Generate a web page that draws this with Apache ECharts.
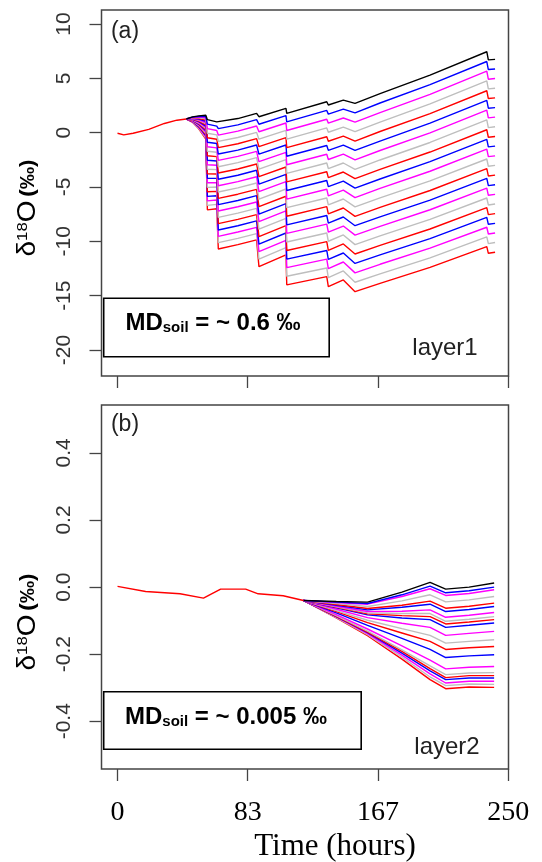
<!DOCTYPE html>
<html>
<head>
<meta charset="utf-8">
<script src="https://cdn.jsdelivr.net/npm/echarts@6/dist/echarts.min.js"></script>
<style>
  html, body { margin: 0; padding: 0; background: #fff; }
  #chart { width: 542px; height: 862px; }
</style>
</head>
<body>
<div id="chart"></div>
<script>
// time ticks (hours), shared by both panels
var xTicks = [0, 83.333, 166.667, 250];
var yTicksA = [-20, -15, -10, -5, 0, 5, 10];
var yTicksB = [-0.4, -0.2, 0, 0.2, 0.4];

// colour of each simulated line, top to bottom
var lineColors = ['#000000',
  '#0000ff', '#ff00ff', '#bebebe', '#ff0000',
  '#0000ff', '#ff00ff', '#bebebe', '#ff0000',
  '#0000ff', '#ff00ff', '#bebebe', '#ff0000',
  '#0000ff', '#ff00ff', '#bebebe', '#ff0000',
  '#0000ff', '#ff00ff', '#bebebe', '#ff0000'];

// ---- layer 1 ----
var trunkTimesA = [0, 4, 10, 20, 30, 38, 44];
var trunkValsA = [-0.05, -0.2, -0.05, 0.3, 0.85, 1.15, 1.26];

var timesA = [44, 48, 52, 56.5, 57.5, 63.5, 64.5, 77, 89, 90.5, 107.8, 108.3, 133.9, 134.9, 144.5, 152, 168, 200, 236.3, 237.3, 241.6];
var layer1Lines = [
  [1.26, 1.45, 1.55, 1.6, 1.2, 1.0, 0.95, 1.3, 1.78, 1.47, 2.24, 1.78, 2.85, 2.55, 3.0, 2.7, 3.6, 5.3, 7.45, 6.7, 6.75],
  [1.26, 1.43, 1.49, 1.49, 0.79, 0.6, 0.37, 0.72, 1.20, 0.78, 1.57, 0.99, 2.05, 1.71, 2.17, 1.83, 2.73, 4.42, 6.55, 5.81, 5.86],
  [1.26, 1.40, 1.43, 1.38, 0.37, 0.2, -0.22, 0.14, 0.62, 0.09, 0.89, 0.20, 1.24, 0.88, 1.35, 0.97, 1.85, 3.53, 5.66, 4.92, 4.98],
  [1.26, 1.38, 1.37, 1.27, -0.05, -0.2, -0.80, -0.44, 0.03, -0.60, 0.22, -0.59, 0.44, 0.04, 0.52, 0.10, 0.98, 2.65, 4.76, 4.03, 4.09],
  [1.26, 1.35, 1.31, 1.16, -0.46, -0.6, -1.38, -1.02, -0.55, -1.29, -0.46, -1.38, -0.37, -0.79, -0.31, -0.77, 0.11, 1.76, 3.86, 3.14, 3.2],
  [1.26, 1.33, 1.25, 1.05, -0.88, -1.0, -1.96, -1.6, -1.13, -1.98, -1.13, -2.17, -1.18, -1.63, -1.14, -1.63, -0.77, 0.88, 2.97, 2.25, 2.31],
  [1.26, 1.30, 1.19, 0.94, -1.29, -1.4, -2.55, -2.18, -1.72, -2.67, -1.81, -2.95, -1.98, -2.47, -1.97, -2.50, -1.64, -0.01, 2.07, 1.36, 1.43],
  [1.26, 1.28, 1.13, 0.83, -1.71, -1.8, -3.13, -2.76, -2.30, -3.36, -2.48, -3.74, -2.79, -3.30, -2.79, -3.37, -2.51, -0.90, 1.17, 0.47, 0.54],
  [1.26, 1.25, 1.07, 0.72, -2.12, -2.2, -3.71, -3.34, -2.88, -4.05, -3.16, -4.53, -3.59, -4.14, -3.62, -4.23, -3.38, -1.78, 0.27, -0.42, -0.35],
  [1.26, 1.23, 1.01, 0.61, -2.54, -2.6, -4.29, -3.92, -3.46, -4.74, -3.83, -5.32, -4.40, -4.97, -4.45, -5.10, -4.26, -2.67, -0.62, -1.31, -1.24],
  [1.26, 1.20, 0.95, 0.5, -2.95, -3.0, -4.88, -4.5, -4.05, -5.43, -4.51, -6.11, -5.20, -5.81, -5.28, -5.97, -5.13, -3.55, -1.52, -2.2, -2.13],
  [1.26, 1.18, 0.89, 0.39, -3.37, -3.4, -5.46, -5.08, -4.63, -6.12, -5.18, -6.90, -6.01, -6.65, -6.10, -6.83, -6.00, -4.44, -2.42, -3.09, -3.01],
  [1.26, 1.15, 0.83, 0.28, -3.78, -3.8, -6.04, -5.66, -5.21, -6.81, -5.85, -7.69, -6.81, -7.48, -6.93, -7.70, -6.88, -5.32, -3.31, -3.98, -3.9],
  [1.26, 1.13, 0.77, 0.17, -4.2, -4.2, -6.62, -6.24, -5.79, -7.50, -6.53, -8.48, -7.62, -8.32, -7.76, -8.56, -7.75, -6.21, -4.21, -4.87, -4.79],
  [1.26, 1.10, 0.71, 0.06, -4.61, -4.6, -7.21, -6.82, -6.38, -8.19, -7.20, -9.27, -8.42, -9.15, -8.59, -9.43, -8.62, -7.09, -5.11, -5.76, -5.68],
  [1.26, 1.08, 0.65, -0.05, -5.03, -5.0, -7.79, -7.4, -6.96, -8.88, -7.88, -10.06, -9.23, -9.99, -9.41, -10.30, -9.50, -7.98, -6.01, -6.65, -6.56],
  [1.26, 1.05, 0.59, -0.16, -5.44, -5.4, -8.37, -7.98, -7.54, -9.57, -8.55, -10.84, -10.03, -10.83, -10.24, -11.16, -10.37, -8.86, -6.90, -7.54, -7.45],
  [1.26, 1.03, 0.53, -0.27, -5.86, -5.8, -8.95, -8.56, -8.12, -10.26, -9.23, -11.63, -10.84, -11.66, -11.07, -12.03, -11.24, -9.75, -7.80, -8.43, -8.34],
  [1.26, 1.00, 0.47, -0.38, -6.27, -6.2, -9.54, -9.14, -8.71, -10.95, -9.90, -12.42, -11.64, -12.50, -11.90, -12.90, -12.11, -10.63, -8.70, -9.32, -9.23],
  [1.26, 0.98, 0.41, -0.49, -6.69, -6.6, -10.12, -9.72, -9.29, -11.64, -10.58, -13.21, -12.45, -13.33, -12.72, -13.76, -12.99, -11.52, -9.59, -10.21, -10.11],
  [1.26, 0.95, 0.35, -0.6, -7.1, -7.0, -10.7, -10.3, -9.87, -12.33, -11.25, -14.0, -13.25, -14.17, -13.55, -14.63, -13.86, -12.4, -10.49, -11.1, -11.0]
];

// ---- layer 2 ----
var trunkTimesB = [0, 18, 40, 55, 66, 82, 90, 106, 119];
var trunkValsB = [0.002, -0.013, -0.02, -0.033, -0.006, -0.006, -0.02, -0.026, -0.04];

var timesB = [119, 140, 160, 182, 200, 210, 225, 241];
var layer2Lines = [
  [-0.04, -0.043, -0.045, -0.015, 0.014, -0.006, 0.0, 0.012],
  [-0.04, -0.045, -0.049, -0.023, 0.003, -0.017, -0.011, 0.0],
  [-0.04, -0.046, -0.051, -0.028, -0.005, -0.025, -0.019, -0.008],
  [-0.04, -0.049, -0.058, -0.041, -0.023, -0.044, -0.038, -0.028],
  [-0.04, -0.052, -0.064, -0.054, -0.042, -0.063, -0.057, -0.048],
  [-0.04, -0.054, -0.068, -0.060, -0.051, -0.073, -0.067, -0.058],
  [-0.04, -0.057, -0.073, -0.072, -0.068, -0.090, -0.084, -0.076],
  [-0.04, -0.059, -0.077, -0.079, -0.079, -0.102, -0.096, -0.088],
  [-0.04, -0.060, -0.080, -0.085, -0.088, -0.110, -0.104, -0.097],
  [-0.04, -0.062, -0.083, -0.092, -0.097, -0.120, -0.114, -0.107],
  [-0.04, -0.066, -0.091, -0.108, -0.120, -0.144, -0.138, -0.132],
  [-0.04, -0.070, -0.099, -0.124, -0.144, -0.167, -0.162, -0.157],
  [-0.04, -0.073, -0.106, -0.137, -0.162, -0.186, -0.181, -0.177],
  [-0.04, -0.077, -0.114, -0.153, -0.186, -0.210, -0.205, -0.202],
  [-0.04, -0.082, -0.125, -0.175, -0.218, -0.244, -0.239, -0.237],
  [-0.04, -0.085, -0.131, -0.187, -0.235, -0.261, -0.256, -0.255],
  [-0.04, -0.087, -0.134, -0.192, -0.243, -0.270, -0.264, -0.264],
  [-0.04, -0.088, -0.136, -0.197, -0.250, -0.276, -0.271, -0.271],
  [-0.04, -0.089, -0.139, -0.203, -0.259, -0.286, -0.281, -0.281],
  [-0.04, -0.091, -0.142, -0.209, -0.268, -0.294, -0.289, -0.290],
  [-0.04, -0.092, -0.145, -0.215, -0.276, -0.303, -0.298, -0.299]
];

var sansFont = 'Liberation Sans, Arial, sans-serif';
var serifFont = 'Liberation Serif, Times New Roman, serif';

function pairs(ts, vs) {
  return ts.map(function (t, i) { return [t, vs[i]]; });
}

function lineSeries(idx, data, color) {
  return {
    type: 'line',
    xAxisIndex: idx,
    yAxisIndex: idx,
    data: data,
    showSymbol: false,
    symbol: 'none',
    silent: true,
    lineStyle: { color: color, width: 1.4 },
    z: 2
  };
}

var series = [];
// draw bottom lines first so the top (black) one ends up above
for (var k = layer1Lines.length - 1; k >= 0; k--) {
  series.push(lineSeries(0, pairs(timesA, layer1Lines[k]), lineColors[k]));
}
series.push(lineSeries(0, pairs(trunkTimesA, trunkValsA), '#ff0000'));
for (var k = layer2Lines.length - 1; k >= 0; k--) {
  series.push(lineSeries(1, pairs(timesB, layer2Lines[k]), lineColors[k]));
}
series.push(lineSeries(1, pairs(trunkTimesB, trunkValsB), '#ff0000'));

function xAxisOf(i) {
  return {
    type: 'value',
    gridIndex: i,
    position: 'bottom',
    min: -10.25,
    max: 250.2,
    axisLine: { show: false, onZero: false },
    splitLine: { show: false },
    axisTick: {
      show: true, inside: false, length: 12, customValues: xTicks,
      lineStyle: { color: '#444', width: 1.3 }
    },
    axisLabel: {
      show: i === 1,
      customValues: xTicks,
      formatter: function (v) { return String(Math.round(v)); },
      fontFamily: serifFont,
      fontSize: 28,
      color: '#000',
      margin: 30
    }
  };
}

function yAxisOf(i, mn, mx, ticks, fmt) {
  return {
    type: 'value',
    gridIndex: i,
    position: 'left',
    min: mn,
    max: mx,
    axisLine: { show: false, onZero: false },
    splitLine: { show: false },
    axisTick: {
      show: true, inside: false, length: 12, customValues: ticks,
      lineStyle: { color: '#444', width: 1.3 }
    },
    axisLabel: {
      customValues: ticks,
      rotate: 90,
      formatter: fmt,
      fontFamily: sansFont,
      fontSize: 21,
      color: '#333',
      margin: 27
    }
  };
}

var yLabelRich = {
  d: { fontFamily: sansFont, fontSize: 25, fill: '#000' },
  s: { fontFamily: sansFont, fontSize: 15, fill: '#000', verticalAlign: 'top' },
  p: { fontFamily: sansFont, fontSize: 20, fontWeight: 'bold', fill: '#000' }
};
var mdRich = {
  b: { fontFamily: sansFont, fontSize: 24, fontWeight: 'bold', fill: '#000' },
  s: { fontFamily: sansFont, fontSize: 15, fontWeight: 'bold', fill: '#000', verticalAlign: 'bottom' }
};

function txt(x, y, text, style, extra) {
  var el = {
    type: 'text', x: x, y: y, z: 10,
    style: Object.assign({ text: text, align: 'center', verticalAlign: 'middle' }, style)
  };
  return Object.assign(el, extra || {});
}

var graphics = [
  txt(125, 32, '(a)', { fontFamily: sansFont, fontSize: 23, fill: '#222' }),
  txt(125, 425, '(b)', { fontFamily: sansFont, fontSize: 23, fill: '#222' }),
  { type: 'rect', z: 9, shape: { x: 103.7, y: 298.3, width: 225.5, height: 58.4 },
    style: { fill: '#fff', stroke: '#000', lineWidth: 1.6 } },
  { type: 'rect', z: 9, shape: { x: 103.7, y: 691.7, width: 257.5, height: 57.6 },
    style: { fill: '#fff', stroke: '#000', lineWidth: 1.6 } },
  txt(213, 323, '{b|MD}{s|soil}{b| = ~ 0.6 ‰}', { rich: mdRich }),
  txt(226, 717, '{b|MD}{s|soil}{b| = ~ 0.005 ‰}', { rich: mdRich }),
  txt(445, 348, 'layer1', { fontFamily: sansFont, fontSize: 24, fill: '#222' }),
  txt(447, 747, 'layer2', { fontFamily: sansFont, fontSize: 24, fill: '#222' }),
  txt(28, 208, '{d|δ}{s|18}{d|O} {p|(‰)}', { rich: yLabelRich }, { rotation: Math.PI / 2, scaleX: 1.12 }),
  txt(28, 622, '{d|δ}{s|18}{d|O} {p|(‰)}', { rich: yLabelRich }, { rotation: Math.PI / 2, scaleX: 1.12 }),
  txt(335, 847, 'Time (hours)', { fontFamily: serifFont, fontSize: 31, fill: '#000' })
];

var chart = echarts.init(document.getElementById('chart'), null, { renderer: 'canvas' });
chart.setOption({
  animation: false,
  backgroundColor: '#fff',
  grid: [
    { left: 101.5, top: 10, width: 407, height: 366, show: true, borderColor: '#444', borderWidth: 1.5, backgroundColor: 'transparent' },
    { left: 101.5, top: 405, width: 407, height: 364, show: true, borderColor: '#444', borderWidth: 1.5, backgroundColor: 'transparent' }
  ],
  xAxis: [xAxisOf(0), xAxisOf(1)],
  yAxis: [
    yAxisOf(0, -22.39, 11.29, yTicksA, function (v) { return String(v); }),
    yAxisOf(1, -0.5425, 0.543, yTicksB, function (v) { return v.toFixed(1); })
  ],
  series: series,
  graphic: graphics
});
</script>
</body>
</html>
